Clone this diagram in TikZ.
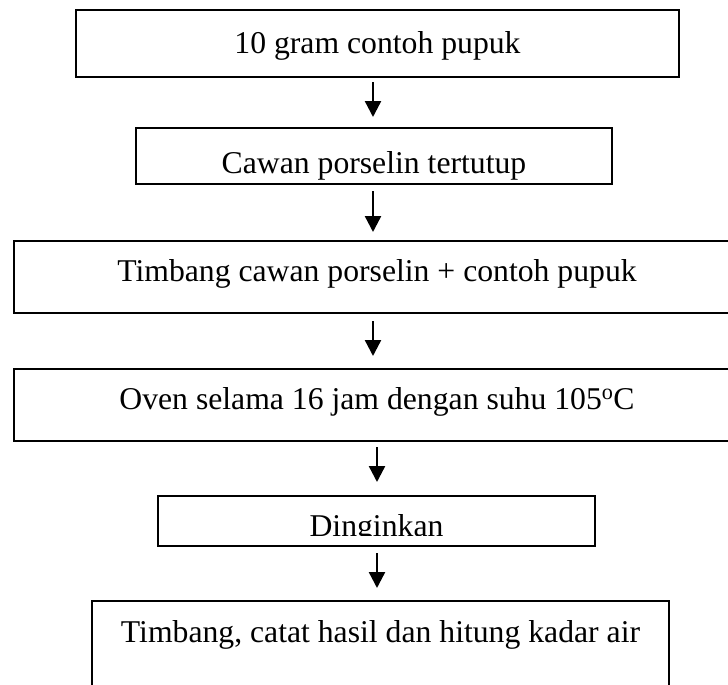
\documentclass[tikz,border=0pt]{standalone}
\usepackage{fontspec}
\setmainfont{Liberation Serif}
\usetikzlibrary{arrows.meta,positioning}

\tikzset{
  box/.style={draw, line width=2.2pt, inner sep=0pt, outer sep=0pt,
    font=\fontsize{31.7}{38}\selectfont, text depth=0pt},
}

\begin{document}
\begin{tikzpicture}[x=1pt, y=-1pt, node distance=55pt]
	\clip (0,0) rectangle (728,685);
	\coordinate (spine) at (373,0);
	\coordinate (spinelow) at (377,0);

	\node[box, minimum width=603pt, minimum height=67pt, text height=19pt] (pupuk) at (377.5,43.5) {10 gram contoh pupuk};
	\node[box, minimum width=476pt, minimum height=56pt, text height=34pt] (cawan) [below=51pt of pupuk, xshift=-3.5pt] {Cawan porselin tertutup};
	\node[box, minimum width=726pt, minimum height=72pt, text height=8pt] (timbang) [below=57pt of cawan, xshift=3pt] {Timbang cawan porselin + contoh pupuk};
	\node[box, minimum width=726pt, minimum height=72pt, text height=8pt] (oven) [below=56pt of timbang] {Oven selama 16 jam dengan suhu 105\textsuperscript{o}C};
	\node[box, minimum width=437pt, minimum height=50pt, text height=30pt] (dingin) [below=55pt of oven, xshift=-0.5pt] {Dinginkan};
	\node[box, minimum width=577pt, minimum height=99pt, text height=0pt, text depth=17pt] (hasil) [below=55pt of dingin, xshift=4pt] {Timbang, catat hasil dan hitung kadar air};

	% text of Dinginkan is cut at its base line
	\fill[white] ([xshift=2pt]dingin.base -| dingin.west) rectangle ([xshift=-2pt,yshift=1.2pt]dingin.south east);

	\path[every edge/.style={draw, -{Triangle[length=16pt,width=16pt]}, line width=2.4pt}]
	(pupuk.south -| spine) edge[shorten <=5pt, shorten >=11pt] (cawan.north -| spine)
	(cawan.south -| spine) edge[shorten <=7pt, shorten >=9pt] (timbang.north -| spine)
	(timbang.south -| spine) edge[shorten <=8pt, shorten >=13pt] (oven.north -| spine)
	(oven.south -| spinelow) edge[shorten <=6pt, shorten >=14pt] (dingin.north -| spinelow)
	(dingin.south -| spinelow) edge[shorten <=7pt, shorten >=13pt] (hasil.north -| spinelow);
\end{tikzpicture}
\end{document}
